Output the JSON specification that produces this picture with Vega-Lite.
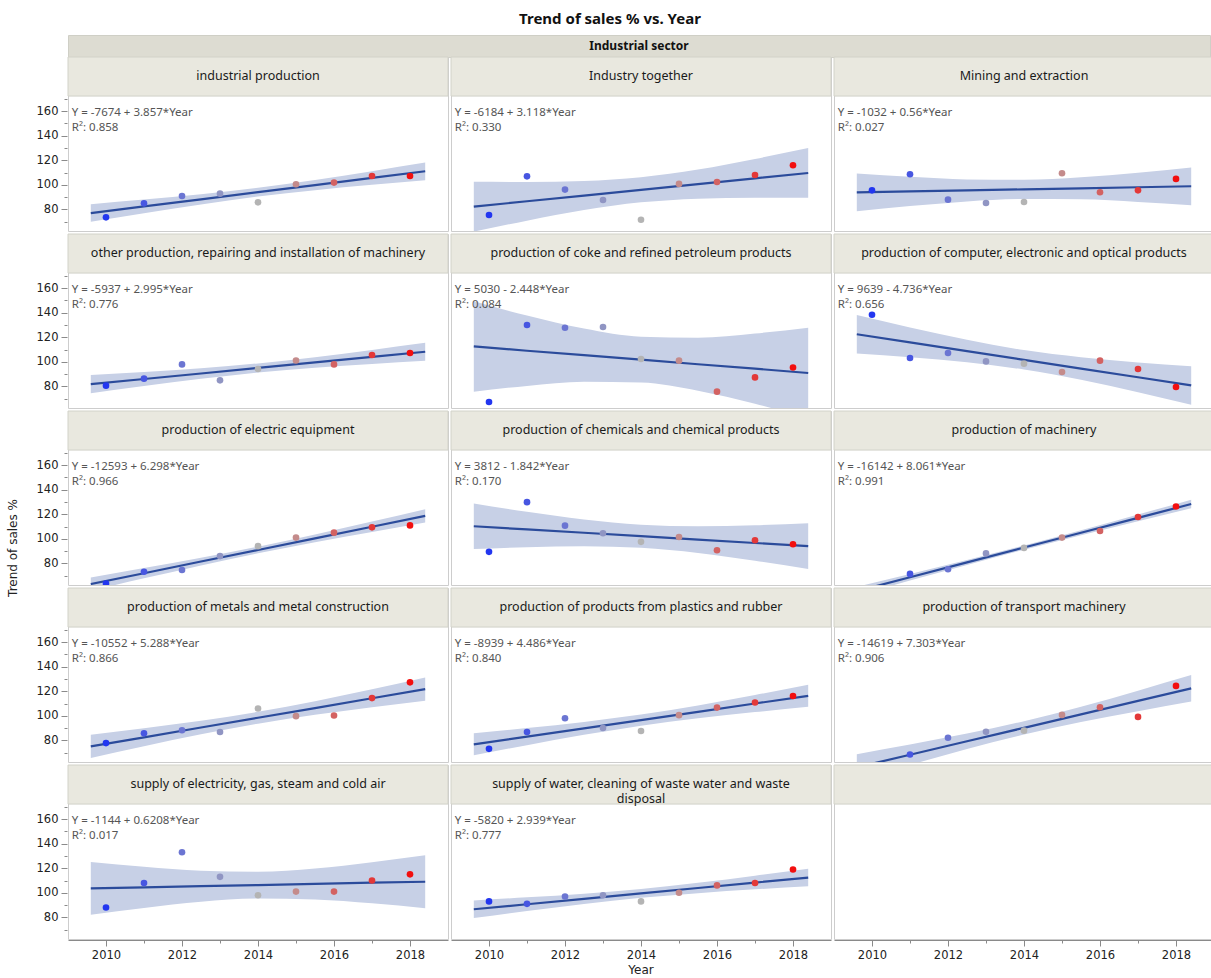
{
  "$schema": "https://vega.github.io/schema/vega-lite/v6.json",
  "padding": {"left": 5, "right": 0, "top": 11, "bottom": 2},
  "background": "white",
  "title": {"text": "Trend of sales % vs. Year", "fontSize": 15, "font": "Noto Sans", "fontWeight": "bold", "anchor": "middle", "frame": "bounds", "offset": 8, "color": "#111111"},
  "config": {
    "view": {"stroke": "#cdcdcd", "strokeWidth": 1},
    "axis": {"labelFont": "DejaVu Sans", "titleFont": "DejaVu Sans", "labelColor": "#222222", "titleColor": "#222222", "titleFontWeight": "normal", "grid": false, "tickColor": "#8a8a8a", "domainColor": "#8a8a8a"}
  },
  "datasets": {
    "hdr": [{"group": "Industrial sector"}],
    "ytl": [{"t": "Trend of sales %"}],
    "d": [
      {"id":1,"Industry":"industrial production","eq":"Y = -7674 + 3.857*Year","r2":"R²: 0.858"},
      {"id":2,"Industry":"Industry together","eq":"Y = -6184 + 3.118*Year","r2":"R²: 0.330"},
      {"id":3,"Industry":"Mining and extraction","eq":"Y = -1032 + 0.56*Year","r2":"R²: 0.027"},
      {"id":4,"Industry":"other production, repairing and installation of machinery","eq":"Y = -5937 + 2.995*Year","r2":"R²: 0.776"},
      {"id":5,"Industry":"production of coke and refined petroleum products","eq":"Y = 5030 - 2.448*Year","r2":"R²: 0.084"},
      {"id":6,"Industry":"production of computer, electronic and optical products","eq":"Y = 9639 - 4.736*Year","r2":"R²: 0.656"},
      {"id":7,"Industry":"production of electric equipment","eq":"Y = -12593 + 6.298*Year","r2":"R²: 0.966"},
      {"id":8,"Industry":"production of chemicals and chemical products","eq":"Y = 3812 - 1.842*Year","r2":"R²: 0.170"},
      {"id":9,"Industry":"production of machinery","eq":"Y = -16142 + 8.061*Year","r2":"R²: 0.991"},
      {"id":10,"Industry":"production of metals and metal construction","eq":"Y = -10552 + 5.288*Year","r2":"R²: 0.866"},
      {"id":11,"Industry":"production of products from plastics and rubber","eq":"Y = -8939 + 4.486*Year","r2":"R²: 0.840"},
      {"id":12,"Industry":"production of transport machinery","eq":"Y = -14619 + 7.303*Year","r2":"R²: 0.906"},
      {"id":13,"Industry":"supply of electricity, gas, steam and cold air","eq":"Y = -1144 + 0.6208*Year","r2":"R²: 0.017"},
      {"id":14,"Industry":"supply of water, cleaning of waste water and waste\ndisposal","eq":"Y = -5820 + 2.939*Year","r2":"R²: 0.777"},
      {"id":15,"Industry":"","eq":"","r2":""},

      {"id":1,"Year":2010,"Sales":73.5},{"id":1,"Year":2011,"Sales":84.9},{"id":1,"Year":2012,"Sales":90.9},{"id":1,"Year":2013,"Sales":92.8},{"id":1,"Year":2014,"Sales":85.7},{"id":1,"Year":2015,"Sales":100.4},{"id":1,"Year":2016,"Sales":101.8},{"id":1,"Year":2017,"Sales":107.2},{"id":1,"Year":2018,"Sales":107.2},
      {"id":2,"Year":2010,"Sales":75.4},{"id":2,"Year":2011,"Sales":106.9},{"id":2,"Year":2012,"Sales":96.1},{"id":2,"Year":2013,"Sales":87.6},{"id":2,"Year":2014,"Sales":71.6},{"id":2,"Year":2015,"Sales":100.7},{"id":2,"Year":2016,"Sales":102.3},{"id":2,"Year":2017,"Sales":108.0},{"id":2,"Year":2018,"Sales":115.9},
      {"id":3,"Year":2010,"Sales":95.5},{"id":3,"Year":2011,"Sales":108.6},{"id":3,"Year":2012,"Sales":87.9},{"id":3,"Year":2013,"Sales":85.2},{"id":3,"Year":2014,"Sales":86.0},{"id":3,"Year":2015,"Sales":109.4},{"id":3,"Year":2016,"Sales":93.9},{"id":3,"Year":2017,"Sales":95.5},{"id":3,"Year":2018,"Sales":104.8},
      {"id":4,"Year":2010,"Sales":80.6},{"id":4,"Year":2011,"Sales":86.3},{"id":4,"Year":2012,"Sales":97.9},{"id":4,"Year":2013,"Sales":84.9},{"id":4,"Year":2014,"Sales":94.1},{"id":4,"Year":2015,"Sales":101.1},{"id":4,"Year":2016,"Sales":97.9},{"id":4,"Year":2017,"Sales":105.5},{"id":4,"Year":2018,"Sales":107.2},
      {"id":5,"Year":2010,"Sales":67.3},{"id":5,"Year":2011,"Sales":129.9},{"id":5,"Year":2012,"Sales":127.7},{"id":5,"Year":2013,"Sales":128.3},{"id":5,"Year":2014,"Sales":102.3},{"id":5,"Year":2015,"Sales":100.9},{"id":5,"Year":2016,"Sales":75.7},{"id":5,"Year":2017,"Sales":87.3},{"id":5,"Year":2018,"Sales":95.4},
      {"id":6,"Year":2010,"Sales":138.3},{"id":6,"Year":2011,"Sales":103.1},{"id":6,"Year":2012,"Sales":107.2},{"id":6,"Year":2013,"Sales":100.3},{"id":6,"Year":2014,"Sales":98.5},{"id":6,"Year":2015,"Sales":91.7},{"id":6,"Year":2016,"Sales":100.9},{"id":6,"Year":2017,"Sales":94.1},{"id":6,"Year":2018,"Sales":79.5},
      {"id":7,"Year":2010,"Sales":63.5},{"id":7,"Year":2011,"Sales":73.2},{"id":7,"Year":2012,"Sales":74.6},{"id":7,"Year":2013,"Sales":85.9},{"id":7,"Year":2014,"Sales":94.0},{"id":7,"Year":2015,"Sales":101.0},{"id":7,"Year":2016,"Sales":105.0},{"id":7,"Year":2017,"Sales":109.3},{"id":7,"Year":2018,"Sales":110.9},
      {"id":8,"Year":2010,"Sales":89.4},{"id":8,"Year":2011,"Sales":129.8},{"id":8,"Year":2012,"Sales":110.7},{"id":8,"Year":2013,"Sales":104.5},{"id":8,"Year":2014,"Sales":97.5},{"id":8,"Year":2015,"Sales":101.5},{"id":8,"Year":2016,"Sales":90.7},{"id":8,"Year":2017,"Sales":98.8},{"id":8,"Year":2018,"Sales":95.6},
      {"id":9,"Year":2010,"Sales":57.1},{"id":9,"Year":2011,"Sales":71.4},{"id":9,"Year":2012,"Sales":75.2},{"id":9,"Year":2013,"Sales":88.1},{"id":9,"Year":2014,"Sales":92.6},{"id":9,"Year":2015,"Sales":101.0},{"id":9,"Year":2016,"Sales":106.3},{"id":9,"Year":2017,"Sales":117.7},{"id":9,"Year":2018,"Sales":126.3},
      {"id":10,"Year":2010,"Sales":77.8},{"id":10,"Year":2011,"Sales":85.7},{"id":10,"Year":2012,"Sales":88.2},{"id":10,"Year":2013,"Sales":86.8},{"id":10,"Year":2014,"Sales":105.9},{"id":10,"Year":2015,"Sales":99.7},{"id":10,"Year":2016,"Sales":100.2},{"id":10,"Year":2017,"Sales":114.4},{"id":10,"Year":2018,"Sales":127.2},
      {"id":11,"Year":2010,"Sales":73.1},{"id":11,"Year":2011,"Sales":86.8},{"id":11,"Year":2012,"Sales":98.0},{"id":11,"Year":2013,"Sales":90.1},{"id":11,"Year":2014,"Sales":87.6},{"id":11,"Year":2015,"Sales":100.5},{"id":11,"Year":2016,"Sales":106.7},{"id":11,"Year":2017,"Sales":110.8},{"id":11,"Year":2018,"Sales":116.1},
      {"id":12,"Year":2010,"Sales":54.5},{"id":12,"Year":2011,"Sales":68.5},{"id":12,"Year":2012,"Sales":82.1},{"id":12,"Year":2013,"Sales":87.0},{"id":12,"Year":2014,"Sales":87.9},{"id":12,"Year":2015,"Sales":100.7},{"id":12,"Year":2016,"Sales":107.0},{"id":12,"Year":2017,"Sales":99.1},{"id":12,"Year":2018,"Sales":124.3},
      {"id":13,"Year":2010,"Sales":88},{"id":13,"Year":2011,"Sales":108},{"id":13,"Year":2012,"Sales":133},{"id":13,"Year":2013,"Sales":113},{"id":13,"Year":2014,"Sales":98},{"id":13,"Year":2015,"Sales":101},{"id":13,"Year":2016,"Sales":101},{"id":13,"Year":2017,"Sales":110},{"id":13,"Year":2018,"Sales":115},
      {"id":14,"Year":2010,"Sales":93},{"id":14,"Year":2011,"Sales":91},{"id":14,"Year":2012,"Sales":97},{"id":14,"Year":2013,"Sales":98},{"id":14,"Year":2014,"Sales":93},{"id":14,"Year":2015,"Sales":100},{"id":14,"Year":2016,"Sales":106},{"id":14,"Year":2017,"Sales":108},{"id":14,"Year":2018,"Sales":119},

      {"id":1,"Year":2009.6,"fit":77.0,"lo":69.9,"hi":84.2},{"id":1,"Year":2011,"fit":82.4,"lo":76.9,"hi":88.0},{"id":1,"Year":2012.5,"fit":88.2,"lo":84.0,"hi":92.4},{"id":1,"Year":2014,"fit":94.0,"lo":90.4,"hi":97.6},{"id":1,"Year":2015.5,"fit":99.8,"lo":95.6,"hi":104.0},{"id":1,"Year":2017,"fit":105.6,"lo":100.0,"hi":111.1},{"id":1,"Year":2018.4,"fit":111.0,"lo":103.8,"hi":118.1},
      {"id":2,"Year":2009.6,"fit":82.2,"lo":61.9,"hi":102.4},{"id":2,"Year":2011,"fit":86.6,"lo":70.8,"hi":102.3},{"id":2,"Year":2012.5,"fit":91.2,"lo":79.4,"hi":103.1},{"id":2,"Year":2014,"fit":95.9,"lo":85.7,"hi":106.2},{"id":2,"Year":2015.5,"fit":100.6,"lo":88.7,"hi":112.4},{"id":2,"Year":2017,"fit":105.3,"lo":89.5,"hi":121.0},{"id":2,"Year":2018.4,"fit":109.6,"lo":89.4,"hi":129.9},
      {"id":3,"Year":2009.6,"fit":93.8,"lo":78.5,"hi":109.2},{"id":3,"Year":2011,"fit":94.6,"lo":82.7,"hi":106.5},{"id":3,"Year":2012.5,"fit":95.5,"lo":86.5,"hi":104.4},{"id":3,"Year":2014,"fit":96.3,"lo":88.5,"hi":104.1},{"id":3,"Year":2015.5,"fit":97.1,"lo":88.2,"hi":106.1},{"id":3,"Year":2017,"fit":98.0,"lo":86.1,"hi":109.9},{"id":3,"Year":2018.4,"fit":98.8,"lo":83.4,"hi":114.1},
      {"id":4,"Year":2009.6,"fit":81.8,"lo":74.5,"hi":89.2},{"id":4,"Year":2011,"fit":86.0,"lo":80.3,"hi":91.7},{"id":4,"Year":2012.5,"fit":90.5,"lo":86.2,"hi":94.8},{"id":4,"Year":2014,"fit":95.0,"lo":91.3,"hi":98.7},{"id":4,"Year":2015.5,"fit":99.5,"lo":95.2,"hi":103.8},{"id":4,"Year":2017,"fit":104.0,"lo":98.3,"hi":109.7},{"id":4,"Year":2018.4,"fit":108.2,"lo":100.8,"hi":115.5},
      {"id":5,"Year":2009.6,"fit":112.5,"lo":75.6,"hi":149.3},{"id":5,"Year":2011,"fit":109.0,"lo":80.4,"hi":137.6},{"id":5,"Year":2012.5,"fit":105.4,"lo":83.8,"hi":127.0},{"id":5,"Year":2014,"fit":101.7,"lo":83.1,"hi":120.4},{"id":5,"Year":2015.5,"fit":98.0,"lo":76.5,"hi":119.6},{"id":5,"Year":2017,"fit":94.4,"lo":65.8,"hi":123.0},{"id":5,"Year":2018.4,"fit":90.9,"lo":54.1,"hi":127.8},
      {"id":6,"Year":2009.6,"fit":122.4,"lo":106.8,"hi":138.1},{"id":6,"Year":2011,"fit":115.8,"lo":103.7,"hi":127.9},{"id":6,"Year":2012.5,"fit":108.7,"lo":99.6,"hi":117.9},{"id":6,"Year":2014,"fit":101.6,"lo":93.7,"hi":109.5},{"id":6,"Year":2015.5,"fit":94.5,"lo":85.4,"hi":103.7},{"id":6,"Year":2017,"fit":87.4,"lo":75.3,"hi":99.5},{"id":6,"Year":2018.4,"fit":80.8,"lo":65.1,"hi":96.4},
      {"id":7,"Year":2009.6,"fit":63.2,"lo":57.8,"hi":68.6},{"id":7,"Year":2011,"fit":72.0,"lo":67.8,"hi":76.2},{"id":7,"Year":2012.5,"fit":81.5,"lo":78.3,"hi":84.6},{"id":7,"Year":2014,"fit":90.9,"lo":88.2,"hi":93.6},{"id":7,"Year":2015.5,"fit":100.4,"lo":97.2,"hi":103.5},{"id":7,"Year":2017,"fit":109.8,"lo":105.6,"hi":114.0},{"id":7,"Year":2018.4,"fit":118.6,"lo":113.2,"hi":124.0},
      {"id":8,"Year":2009.6,"fit":110.2,"lo":91.6,"hi":128.8},{"id":8,"Year":2011,"fit":107.6,"lo":93.2,"hi":122.0},{"id":8,"Year":2012.5,"fit":104.9,"lo":94.0,"hi":115.7},{"id":8,"Year":2014,"fit":102.1,"lo":92.7,"hi":111.5},{"id":8,"Year":2015.5,"fit":99.3,"lo":88.5,"hi":110.2},{"id":8,"Year":2017,"fit":96.6,"lo":82.2,"hi":111.0},{"id":8,"Year":2018.4,"fit":94.0,"lo":75.4,"hi":112.6},
      {"id":9,"Year":2009.6,"fit":57.4,"lo":53.9,"hi":60.9},{"id":9,"Year":2011,"fit":68.7,"lo":66.0,"hi":71.4},{"id":9,"Year":2012.5,"fit":80.8,"lo":78.7,"hi":82.8},{"id":9,"Year":2014,"fit":92.9,"lo":91.1,"hi":94.6},{"id":9,"Year":2015.5,"fit":104.9,"lo":102.9,"hi":107.0},{"id":9,"Year":2017,"fit":117.0,"lo":114.3,"hi":119.8},{"id":9,"Year":2018.4,"fit":128.3,"lo":124.8,"hi":131.8},
      {"id":10,"Year":2009.6,"fit":75.1,"lo":65.7,"hi":84.6},{"id":10,"Year":2011,"fit":82.5,"lo":75.2,"hi":89.9},{"id":10,"Year":2012.5,"fit":90.5,"lo":84.9,"hi":96.0},{"id":10,"Year":2014,"fit":98.4,"lo":93.6,"hi":103.2},{"id":10,"Year":2015.5,"fit":106.3,"lo":100.8,"hi":111.9},{"id":10,"Year":2017,"fit":114.3,"lo":106.9,"hi":121.6},{"id":10,"Year":2018.4,"fit":121.7,"lo":112.2,"hi":131.2},
      {"id":11,"Year":2009.6,"fit":76.8,"lo":67.8,"hi":85.7},{"id":11,"Year":2011,"fit":83.0,"lo":76.1,"hi":90.0},{"id":11,"Year":2012.5,"fit":89.8,"lo":84.5,"hi":95.0},{"id":11,"Year":2014,"fit":96.5,"lo":92.0,"hi":101.0},{"id":11,"Year":2015.5,"fit":103.2,"lo":98.0,"hi":108.4},{"id":11,"Year":2017,"fit":110.0,"lo":103.0,"hi":116.9},{"id":11,"Year":2018.4,"fit":116.2,"lo":107.3,"hi":125.2},
      {"id":12,"Year":2009.6,"fit":58.1,"lo":47.4,"hi":68.8},{"id":12,"Year":2011,"fit":68.3,"lo":60.0,"hi":76.6},{"id":12,"Year":2012.5,"fit":79.3,"lo":73.0,"hi":85.5},{"id":12,"Year":2014,"fit":90.2,"lo":84.8,"hi":95.6},{"id":12,"Year":2015.5,"fit":101.2,"lo":94.9,"hi":107.4},{"id":12,"Year":2017,"fit":112.1,"lo":103.8,"hi":120.4},{"id":12,"Year":2018.4,"fit":122.3,"lo":111.6,"hi":133.1},
      {"id":13,"Year":2009.6,"fit":103.6,"lo":82.1,"hi":125.1},{"id":13,"Year":2011,"fit":104.4,"lo":87.7,"hi":121.1},{"id":13,"Year":2012.5,"fit":105.4,"lo":92.8,"hi":118.0},{"id":13,"Year":2014,"fit":106.3,"lo":95.4,"hi":117.2},{"id":13,"Year":2015.5,"fit":107.2,"lo":94.6,"hi":119.8},{"id":13,"Year":2017,"fit":108.2,"lo":91.5,"hi":124.9},{"id":13,"Year":2018.4,"fit":109.0,"lo":87.5,"hi":130.6},
      {"id":14,"Year":2009.6,"fit":86.6,"lo":79.4,"hi":93.8},{"id":14,"Year":2011,"fit":90.7,"lo":85.1,"hi":96.3},{"id":14,"Year":2012.5,"fit":95.1,"lo":90.9,"hi":99.3},{"id":14,"Year":2014,"fit":99.5,"lo":95.9,"hi":103.1},{"id":14,"Year":2015.5,"fit":103.9,"lo":99.7,"hi":108.1},{"id":14,"Year":2017,"fit":108.3,"lo":102.8,"hi":113.9},{"id":14,"Year":2018.4,"fit":112.4,"lo":105.3,"hi":119.6}
    ]
  },
  "hconcat": [
    {
      "data": {"name": "ytl"},
      "width": 16,
      "height": 896,
      "view": {"stroke": null},
      "mark": {"type": "text", "angle": 270, "dx": -65, "font": "DejaVu Sans", "fontSize": 12, "color": "#222222", "baseline": "middle", "align": "center"},
      "encoding": {"text": {"field": "t"}}
    },
    {
      "vconcat": [
        {
          "data": {"name": "hdr"},
          "width": 1142,
          "height": 22,
          "view": {"fill": "#dddcd2", "stroke": "#cfcfc6"},
          "mark": {"type": "text", "font": "Noto Sans", "fontWeight": "bold", "fontSize": 12, "color": "#111111", "baseline": "middle"},
          "encoding": {"text": {"field": "group"}}
        },
        {
          "data": {"name": "d"},
          "facet": {"field": "id", "type": "ordinal", "title": "Year",
                    "header": {"labels": false, "labelExpr": "''", "labelFontSize": 0, "labelPadding": 0,
                               "titleOrient": "bottom", "titleFont": "DejaVu Sans", "titleFontSize": 12, "titleFontWeight": "normal", "titleColor": "#222222", "titlePadding": 4}},
          "columns": 3,
          "spacing": {"row": 1, "column": 1},
          "spec": {
            "width": 380,
            "height": 174,
            "resolve": {"axis": {"x": "independent", "y": "independent"}},
            "layer": [
              {
                "transform": [{"filter": "isValid(datum.fit)"}],
                "mark": {"type": "area", "color": "#c7d0e6", "opacity": 1, "clip": true, "interpolate": "monotone"},
                "encoding": {
                  "x": {"field": "Year", "type": "quantitative", "scale": {"domain": [2009, 2019], "nice": false, "zero": false},
                        "axis": {"orient": "bottom", "values": [2010, 2012, 2014, 2016, 2018], "format": "d", "title": null, "labelFontSize": 11.5, "tickSize": 6, "labelPadding": 3}},
                  "y": {"field": "lo", "type": "quantitative", "scale": {"domain": [62.4, 204], "nice": false, "zero": false},
                        "axis": {"orient": "left", "values": [80, 100, 120, 140, 160], "title": null, "labelFontSize": 11.5, "domain": false, "tickSize": 6, "labelPadding": 3}},
                  "y2": {"field": "hi"}
                }
              },
              {
                "transform": [{"filter": "isValid(datum.fit)"}],
                "mark": {"type": "line", "color": "#2b4b9b", "strokeWidth": 2.2, "clip": true},
                "encoding": {
                  "x": {"field": "Year", "type": "quantitative",
                        "axis": {"orient": "bottom", "values": [2011, 2013, 2015, 2017], "labels": false, "domain": false, "tickSize": 3, "title": null}},
                  "y": {"field": "fit", "type": "quantitative",
                        "axis": {"orient": "left", "values": [70, 90, 110, 130, 150, 170], "labels": false, "domain": false, "tickSize": 3, "title": null}}
                }
              },
              {
                "transform": [{"filter": "isValid(datum.Sales)"}],
                "mark": {"type": "point", "filled": true, "size": 44, "opacity": 1, "clip": true},
                "encoding": {
                  "x": {"field": "Year", "type": "quantitative", "axis": null},
                  "y": {"field": "Sales", "type": "quantitative", "axis": null},
                  "color": {"field": "Year", "type": "quantitative", "legend": null,
                            "scale": {"domain": [2010, 2014, 2018], "range": ["#2236f0", "#b4b4b4", "#f20f0f"], "interpolate": "rgb"}}
                }
              },
              {
                "transform": [{"filter": "isValid(datum.eq)"}],
                "mark": {"type": "rect", "fill": "#e9e8df", "stroke": "#d2d2c9", "strokeWidth": 1},
                "encoding": {
                  "x": {"datum": 2009, "type": "quantitative", "axis": null},
                  "x2": {"datum": 2019},
                  "y": {"datum": 172.2, "type": "quantitative", "axis": null},
                  "y2": {"datum": 204}
                }
              },
              {
                "transform": [{"filter": "isValid(datum.eq)"}],
                "mark": {"type": "text", "font": "Noto Sans", "fontSize": 12.5, "color": "#1a1a1a", "baseline": "middle", "align": "center", "lineBreak": "\n", "lineHeight": 15},
                "encoding": {
                  "x": {"datum": 2014, "type": "quantitative", "axis": null},
                  "y": {"datum": 188.2, "type": "quantitative", "axis": null},
                  "text": {"field": "Industry"}
                }
              },
              {
                "transform": [{"filter": "isValid(datum.eq)"}],
                "mark": {"type": "text", "font": "Noto Sans", "fontSize": 11.5, "color": "#555555", "baseline": "alphabetic", "align": "left"},
                "encoding": {
                  "x": {"datum": 2009.1, "type": "quantitative", "axis": null},
                  "y": {"datum": 155.9, "type": "quantitative", "axis": null},
                  "text": {"field": "eq"}
                }
              },
              {
                "transform": [{"filter": "isValid(datum.eq)"}],
                "mark": {"type": "text", "font": "Noto Sans", "fontSize": 11.5, "color": "#555555", "baseline": "alphabetic", "align": "left"},
                "encoding": {
                  "x": {"datum": 2009.1, "type": "quantitative", "axis": null},
                  "y": {"datum": 143.7, "type": "quantitative", "axis": null},
                  "text": {"field": "r2"}
                }
              }
            ]
          }
        }
      ],
      "spacing": 0,
      "bounds": "flush"
    }
  ],
  "spacing": 47,
  "bounds": "flush"
}
